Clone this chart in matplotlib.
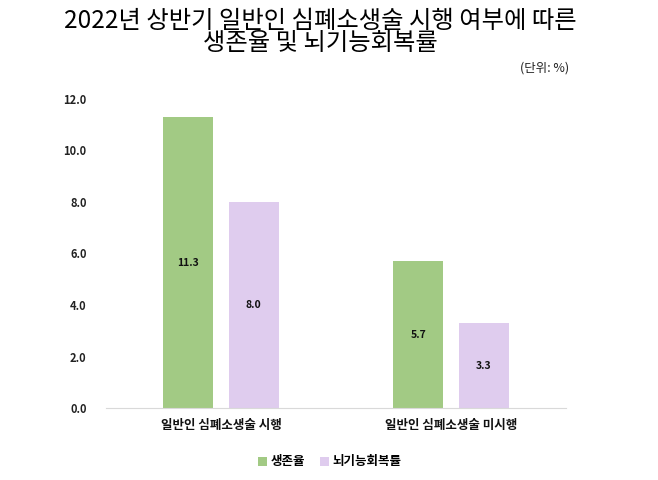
import matplotlib
matplotlib.use("Agg")
import matplotlib.pyplot as plt
import numpy as np

plt.rcParams['font.family'] = ['Noto Sans CJK KR', 'DejaVu Sans']

categories = ["일반인 심폐소생술 시행", "일반인 심폐소생술 미시행"]
series_names = ["생존율", "뇌기능회복률"]
survival = [11.3, 5.7]
recovery = [8.0, 3.3]
yticks = [0, 2, 4, 6, 8, 10, 12]

colors = ["#A2CA84", "#DFCCEE"]

fig = plt.figure(figsize=(6.58, 4.8), dpi=100)
ax = fig.add_axes([106/658, 1-408/480, 460/658, 309/480])

x = np.arange(len(categories))
w = 0.217
off = 0.142
b1 = ax.bar(x - off, survival, w, color=colors[0], label=series_names[0])
b2 = ax.bar(x + off, recovery, w, color=colors[1], label=series_names[1])

for bars, vals in ((b1, survival), (b2, recovery)):
    for r, v in zip(bars, vals):
        ax.text(r.get_x() + r.get_width()/2, v/2, f"{v:.1f}", ha='center', va='center',
                fontsize=7.5, fontweight='bold', color='#111111')

ax.set_xlim(-0.5, 1.5)
ax.set_ylim(0, 12)
ax.set_yticks(yticks)
ax.set_yticklabels([f"{t:.1f}" for t in yticks], fontsize=8, fontweight='bold', color='#222222')
ax.set_xticks(x)
ax.set_xticklabels(categories, fontsize=9, fontweight='bold', color='#111111')
ax.tick_params(axis='both', length=0)
ax.tick_params(axis='y', pad=14)
ax.tick_params(axis='x', pad=8)
for s in ['top', 'right', 'left']:
    ax.spines[s].set_visible(False)
ax.spines['bottom'].set_color('#D9D9D9')

fig.text(320/658, 1-32/480, "2022년 상반기 일반인 심폐소생술 시행 여부에 따른\n생존율 및 뇌기능회복률",
         ha='center', va='center', multialignment='center', fontsize=17.5, linespacing=0.82,
         color='black')
fig.text(545/658, 1-68/480, "(단위: %)", ha='center', va='center', fontsize=9, color='#222222')

leg = fig.legend(handles=[b1, b2], labels=series_names, loc='center', bbox_to_anchor=(330/658, 1-462/480),
                 ncol=2, frameon=False, handlelength=0.7, handleheight=0.7,
                 handletextpad=0.3, columnspacing=1.2, prop={'weight': 'bold', 'size': 9})

fig.savefig("out.png", dpi=100, facecolor='white')
